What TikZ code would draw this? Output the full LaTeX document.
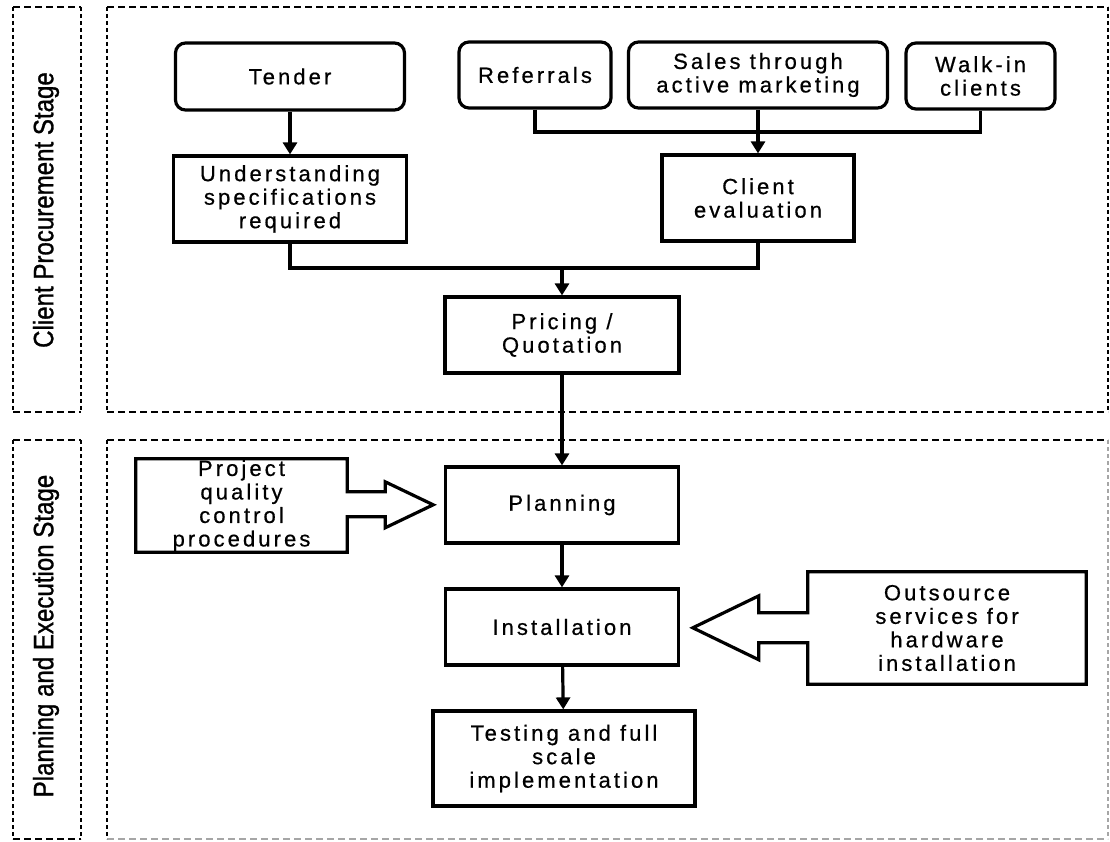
\documentclass[tikz,border=0pt]{standalone}
\usepackage{fontspec}
\setmainfont{Liberation Sans}[LetterSpace=14, FakeBold=0.6]
\newfontfamily\stagefont{Liberation Sans}[FakeStretch=0.86, FakeBold=1]
\usetikzlibrary{arrows.meta,calc}

\begin{document}
\begin{tikzpicture}[x=1pt,y=-1pt,
  boxtext/.style={rectangle, align=center, inner sep=0pt,
    font=\fontsize{22}{23.5}\selectfont},
  stepbox/.style={boxtext, draw, line width=3.2pt},
  roundbox/.style={stepbox, rounded corners=10pt},
  stagelabel/.style={rotate=90, inner sep=0pt,
    font=\stagefont\fontsize{28}{30}\selectfont},
  link/.style={line width=3.2pt},
  arr/.style={link, -{Triangle[length=12pt,width=14pt]}},
  callout/.style={line width=3.2pt, line join=miter},
  hdash/.style={line width=2.6pt, dash pattern=on 7pt off 4pt},
  vdash/.style={line width=2.6pt, dash pattern=on 4pt off 3pt},
  faint/.style={draw=black!35}
]
\useasboundingbox[fill=white] (0,0) rectangle (1110,842);

% ---- stage frames ----
\draw[hdash] (13,7) -- (81,7) (13,412) -- (81,412);
\draw[vdash] (13,7) -- (13,412) (81,7) -- (81,412);
\draw[hdash] (107,7) -- (1108,7) (107,412) -- (1108,412);
\draw[vdash] (107,7) -- (107,412) (1108,7) -- (1108,412);

\draw[hdash] (13,440) -- (81,440) (13,839) -- (81,839);
\draw[vdash] (13,440) -- (13,839) (81,440) -- (81,839);
\draw[hdash] (107,440) -- (1108,440);
\draw[hdash, faint] (107,839) -- (1108,839);
\draw[vdash] (107,440) -- (107,839);
\draw[vdash, faint] (1108,440) -- (1108,839);

\node[stagelabel] (stage1) at (46,210) {Client Procurement Stage};
\node[stagelabel] (stage2) at (46,636) {Planning and Execution Stage};

% ---- client procurement stage ----
\node[roundbox, minimum width=229pt, minimum height=67pt] (tender) at (290,76.5) {Tender};
\node[roundbox, minimum width=152pt, minimum height=66pt] (referrals) at (535,75) {Referrals};
\node[roundbox, minimum width=259pt, minimum height=66pt] (sales) at (758,75) {Sales through\\active marketing};
\node[roundbox, minimum width=149pt, minimum height=66pt] (walkin) at (980.5,76) {Walk-in\\clients};

\node[stepbox, minimum width=233pt, minimum height=86pt] (underst) at (290,199) {Understanding\\specifications\\required};
\node[stepbox, minimum width=192pt, minimum height=86pt] (clienteval) at (758,198) {Client\\evaluation};
\node[stepbox, minimum width=234pt, minimum height=76pt] (pricing) at (562,335) {Pricing /\\Quotation};

\coordinate (j1) at (758,132);
\coordinate (j2) at (562,268);

\draw[arr] (tender) -- (underst);
\draw[link] (referrals.south) |- (j1) -| (walkin.south);
\draw[arr] (sales) -- (clienteval);
\draw[link] (underst.south) |- (j2) -| (clienteval.south);
\draw[arr] (j2) -- (pricing.north);

% ---- planning and execution stage ----
\node[stepbox, minimum width=233pt, minimum height=76pt] (planning) at (562,505) {Planning};
\node[stepbox, minimum width=233pt, minimum height=76pt] (install) at (562,627) {Installation};
\node[stepbox, minimum width=262pt, minimum height=95pt] (testing) at (564,758.5) {Testing and full\\scale\\implementation};

\draw[arr] (pricing) -- (planning);
\draw[arr] (planning) -- (install);
\draw[arr] (install) -- (testing);

% input boxes with block arrows
\node[boxtext, minimum width=211pt, minimum height=93pt] (pqc) at (241.5,505.5) {Project\\quality\\control\\procedures};
\draw[callout] (pqc.north west) -- (pqc.north east) -- ++(0,33) -- ++(38,0) -- ++(0,-10)
  -- ++(48,23) -- ++(-48,23) -- ++(0,-11) -- ++(-38,0) -- (pqc.south east)
  -- (pqc.south west) -- cycle;

\node[boxtext, minimum width=278pt, minimum height=112pt] (outs) at (947,628) {Outsource\\services for\\hardware\\installation};
\draw[callout] (outs.north east) -- (outs.north west) -- ++(0,41) -- ++(-49,0) -- ++(0,-17)
  -- ++(-66,32) -- ++(66,32) -- ++(0,-17) -- ++(49,0) -- (outs.south west)
  -- (outs.south east) -- cycle;
\end{tikzpicture}
\end{document}
